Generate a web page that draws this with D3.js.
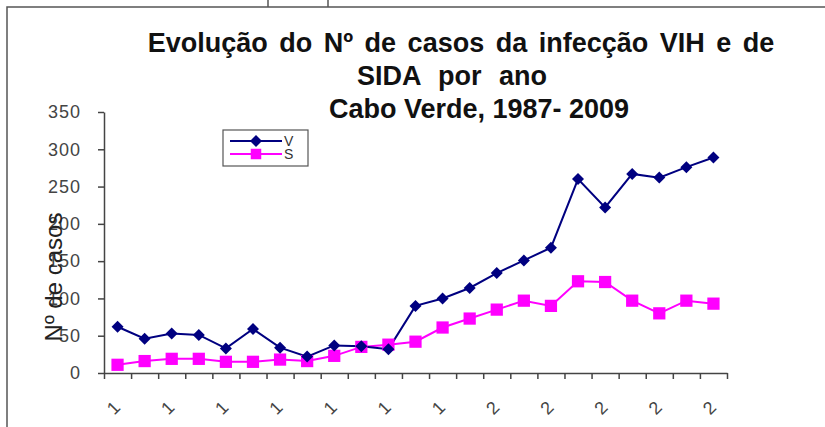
<!DOCTYPE html>
<html>
<head>
<meta charset="utf-8">
<script src="https://cdn.jsdelivr.net/npm/d3@7"></script>
<style>
  body { margin: 0; background: #fff; }
  svg { display: block; font-family: "Liberation Sans", Arial, sans-serif; }
</style>
</head>
<body>
<svg id="chart"></svg>
<script>
var years = [1987, 1988, 1989, 1990, 1991, 1992, 1993, 1994, 1995, 1996, 1997, 1998,
             1999, 2000, 2001, 2002, 2003, 2004, 2005, 2006, 2007, 2008, 2009];
var vih = [62, 46, 53, 51, 33, 59, 34, 22, 37, 36, 32, 90,
           100, 114, 134, 151, 168, 260, 222, 267, 262, 276, 289];
var sida = [11, 16, 19, 19, 15, 15, 18, 16, 23, 35, 38, 42,
            61, 73, 85, 97, 90, 123, 122, 97, 80, 97, 93];
var yTicks = [0, 50, 100, 150, 200, 250, 300, 350];
var titleLines = ["Evolução do Nº de casos da infecção VIH e de", "SIDA por ano", "Cabo Verde, 1987- 2009"];

var width = 825, height = 427;
var svg = d3.select("#chart").attr("width", width).attr("height", height);

// frame of the pasted chart
svg.append("path").attr("d", "M7,427V7H825").attr("fill", "none").attr("stroke", "#555").attr("stroke-width", 1.5);
svg.append("path").attr("d", "M268,0V7M328,0V7").attr("stroke", "#555").attr("stroke-width", 1.5);

var plotLeft = 104, plotRight = 727, plotTop = 112, plotBottom = 373;

var x = d3.scaleBand().domain(years).range([plotLeft, plotRight]);
var xb = d3.scaleLinear().domain([0, years.length]).range([plotLeft, plotRight]);
var y = d3.scaleLinear().domain([0, 350]).range([plotBottom, plotTop]);

// title
var tx = [461, 452, 479];
var ws = [4, 10, 0];
svg.append("g").selectAll("text").data(titleLines).enter().append("text")
  .attr("x", function(d, i) { return tx[i]; })
  .attr("y", function(d, i) { return 52 + i * 33; })
  .attr("text-anchor", "middle")
  .attr("font-size", 27).attr("font-weight", "bold")
  .attr("word-spacing", function(d, i) { return ws[i]; })
  .attr("fill", "#111")
  .text(function(d) { return d; });

// y axis
var yAxis = svg.append("g").attr("transform", "translate(" + plotLeft + ",0)")
  .call(d3.axisLeft(y).tickValues(yTicks).tickSize(6).tickPadding(17).tickSizeOuter(0));
yAxis.select(".domain").attr("stroke", "#444").attr("stroke-width", 1.5);
yAxis.selectAll(".tick line").attr("stroke", "#444").attr("stroke-width", 1.5);
yAxis.selectAll("text").attr("font-size", 18).attr("letter-spacing", 1).attr("fill", "#444")
  .attr("font-family", "Liberation Sans, Arial, sans-serif");

// x axis, ticks at category borders
var xAxis = svg.append("g").attr("transform", "translate(0," + plotBottom + ")")
  .call(d3.axisBottom(xb).tickValues(d3.range(years.length + 1)).tickSize(6).tickFormat("").tickSizeOuter(0));
xAxis.select(".domain").attr("stroke", "#444").attr("stroke-width", 1.5);
xAxis.selectAll(".tick line").attr("stroke", "#444").attr("stroke-width", 1.5);

// x labels, cut off to their first character as in the source
svg.append("g").selectAll("text")
  .data(years.filter(function(d, i) { return i % 2 === 0; }))
  .enter().append("text")
  .attr("transform", function(d) {
    return "translate(" + (x(d) + x.bandwidth() / 2 - 4) + ",408) rotate(-45)";
  })
  .attr("text-anchor", "middle").attr("dominant-baseline", "central")
  .attr("font-size", 18).attr("fill", "#444")
  .text(function(d) { return String(d).slice(0, 1); });

// y title
svg.append("text")
  .attr("transform", "translate(62,277) rotate(-90)")
  .attr("text-anchor", "middle")
  .attr("font-size", 24).attr("fill", "#222")
  .text("Nº de casos");

var cx = function(d, i) { return x(years[i]) + x.bandwidth() / 2; };
var line = d3.line().x(cx).y(function(d) { return y(d); });

svg.append("path").datum(sida).attr("d", line)
  .attr("fill", "none").attr("stroke", "#ff00ff").attr("stroke-width", 2);
svg.append("path").datum(vih).attr("d", line)
  .attr("fill", "none").attr("stroke", "#000080").attr("stroke-width", 2);

var square = d3.symbol().type(d3.symbolSquare).size(150);
var diamond = "M0,-6L6,0L0,6L-6,0Z";

svg.append("g").selectAll("path").data(sida).enter().append("path")
  .attr("transform", function(d, i) { return "translate(" + cx(d, i) + "," + y(d) + ")"; })
  .attr("d", square).attr("fill", "#ff00ff");
svg.append("g").selectAll("path").data(vih).enter().append("path")
  .attr("transform", function(d, i) { return "translate(" + cx(d, i) + "," + y(d) + ")"; })
  .attr("d", diamond).attr("fill", "#000080");

// legend
var lg = svg.append("g").attr("transform", "translate(223,130)");
lg.append("rect").attr("width", 85).attr("height", 36)
  .attr("fill", "#fff").attr("stroke", "#555").attr("stroke-width", 1.2);
var items = [{name: "V", color: "#000080", sym: diamond}, {name: "S", color: "#ff00ff", sym: d3.symbol().type(d3.symbolSquare).size(110)()}];
items.forEach(function(it, i) {
  var yy = 11 + i * 13;
  lg.append("line").attr("x1", 7).attr("x2", 59).attr("y1", yy).attr("y2", yy)
    .attr("stroke", it.color).attr("stroke-width", 2);
  lg.append("path").attr("transform", "translate(33," + yy + ")").attr("d", it.sym).attr("fill", it.color);
  lg.append("text").attr("x", 61).attr("y", yy + 5).attr("font-size", 14).attr("fill", "#333").text(it.name);
});
</script>
</body>
</html>
